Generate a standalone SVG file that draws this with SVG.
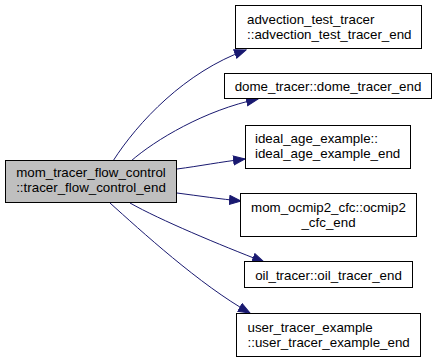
<svg xmlns="http://www.w3.org/2000/svg" width="437" height="361" viewBox="0 0 437 361">
  <style>
    .node rect { fill: #ffffff; stroke: #000000; stroke-width: 1; }
    .node.root rect { fill: #bfbfbf; }
    .node text { font-family: "Liberation Sans", Arial, sans-serif; font-size: 13.33px; fill: #000000; }
    .mid { text-anchor: middle; }
    .edges path { fill: none; stroke: #191970; stroke-width: 1; marker-end: url(#arrow); }
  </style>
  <defs>
    <marker id="arrow" markerUnits="userSpaceOnUse" markerWidth="13" markerHeight="11" refX="12" refY="5" orient="auto">
      <path d="M0.5,0.5 L12,5 L0.5,9.5 Z" fill="#191970" stroke="#191970" stroke-width="1"/>
    </marker>
  </defs>
  <rect width="437" height="361" fill="#ffffff"/>

  <g class="edges" id="edges">
    <path d="M113,161 C138,122 185,72 246,50"/>
    <path d="M131,161 C155,140 205,110 258,99"/>
    <path d="M177,169 C200,166 220,162 245,159"/>
    <path d="M177,193 C200,196 220,199 241,201"/>
    <path d="M130,203 C160,220 220,245 264,262"/>
    <path d="M110,203 C140,230 200,285 250,313"/>
  </g>

  <g class="node root" id="node_tracer_flow_control_end">
    <rect x="5.5" y="160.5" width="171" height="42"/>
    <text class="mid" x="91" y="177">mom_tracer_flow_control</text>
    <text class="mid" x="91" y="192">::tracer_flow_control_end</text>
  </g>

  <g class="node" id="node_advection_test_tracer_end">
    <rect x="235.5" y="5.5" width="186" height="43"/>
    <text x="247" y="23.5">advection_test_tracer</text>
    <text x="247" y="38.5">::advection_test_tracer_end</text>
  </g>

  <g class="node" id="node_dome_tracer_end">
    <rect x="224.5" y="73.5" width="207" height="25"/>
    <text class="mid" x="328" y="90.5">dome_tracer::dome_tracer_end</text>
  </g>

  <g class="node" id="node_ideal_age_example_end">
    <rect x="245.5" y="125.5" width="165" height="43"/>
    <text x="255" y="143">ideal_age_example::</text>
    <text x="255" y="158">ideal_age_example_end</text>
  </g>

  <g class="node" id="node_ocmip2_cfc_end">
    <rect x="240.5" y="193.5" width="176" height="43"/>
    <text class="mid" x="328.5" y="211.5">mom_ocmip2_cfc::ocmip2</text>
    <text class="mid" x="328.5" y="226.5">_cfc_end</text>
  </g>

  <g class="node" id="node_oil_tracer_end">
    <rect x="244.5" y="261.5" width="168" height="26"/>
    <text class="mid" x="328.5" y="279.5">oil_tracer::oil_tracer_end</text>
  </g>

  <g class="node" id="node_user_tracer_example_end">
    <rect x="236.5" y="313.5" width="184" height="43"/>
    <text x="247.5" y="331.5">user_tracer_example</text>
    <text x="247.5" y="346.5">::user_tracer_example_end</text>
  </g>
</svg>
